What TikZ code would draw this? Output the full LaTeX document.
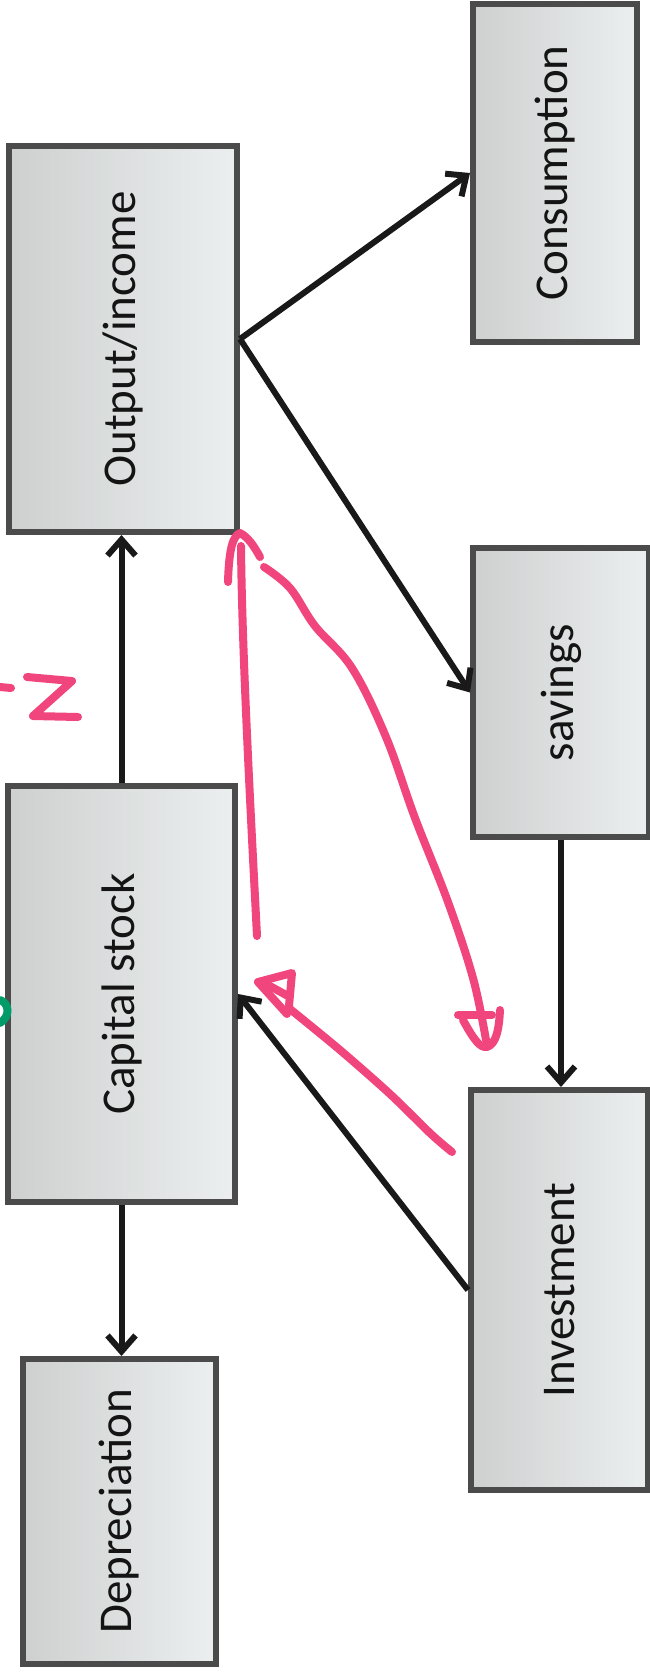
\documentclass[tikz,border=0pt]{standalone}
\usepackage{fontspec}
\setmainfont{Carlito}
\usetikzlibrary{arrows.meta,shapes.geometric}
\definecolor{boxedge}{RGB}{75,75,75}
\definecolor{boxdark}{RGB}{206,208,208}
\definecolor{boxlight}{RGB}{236,239,239}
\definecolor{inkpink}{RGB}{240,70,125}
\definecolor{inkgreen}{RGB}{0,155,105}
\definecolor{txt}{RGB}{20,20,20}
\tikzset{
  flowbox/.style={draw=boxedge, line width=6pt, left color=boxdark, right color=boxlight,
    shading angle=90, rectangle, inner sep=0pt, text=txt,
    font=\fontsize{47}{56}\selectfont},
  flowarrow/.style={draw=black!90, line width=6pt, -{Straight Barb[length=16pt,width=28pt,line width=6pt]}},
  ink/.style={draw=inkpink, line width=8pt, line cap=round, line join=round},
  greenink/.style={draw=inkgreen, line width=8pt, line cap=round}
}
\begin{document}
\begin{tikzpicture}[x=1pt,y=-1pt]
\useasboundingbox (0,0) rectangle (650,1676);
\fill[white] (0,0) rectangle (650,1676);

% boxes
\node[flowbox, minimum width=228pt, minimum height=386pt] (out) at (123,339) {\rotatebox{90}{Output/income}};
\node[flowbox, minimum width=164pt, minimum height=338pt] (cons) at (555,173) {\rotatebox{90}{Consumption}};
\node[flowbox, minimum width=176pt, minimum height=289pt] (sav) at (561,692.5) {\rotatebox{90}{savings}};
\node[flowbox, minimum width=227pt, minimum height=416pt] (cap) at (121.5,994) {\rotatebox{90}{Capital stock}};
\node[flowbox, minimum width=177pt, minimum height=400pt] (inv) at (559.5,1290) {\rotatebox{90}{Investment}};
\node[flowbox, minimum width=193pt, minimum height=305pt] (dep) at (119.5,1511.5) {\rotatebox{90}{Depreciation}};

% connectors
\draw[flowarrow] (out.east) -- (cons.west);
\draw[flowarrow] (out.east) -- (sav.west);
\draw[flowarrow] (cap.north) -- (cap.north |- out.south);
\draw[flowarrow] (sav.south) -- (sav.south |- inv.north);
\draw[flowarrow] (inv.west) -- (cap.east);
\draw[flowarrow] (cap.south) -- (cap.south |- dep.north);

% handwritten pink annotations
\draw[ink] (0,687) -- (11,688);
\draw[ink] (27,677) -- (72,681) -- (33,716) -- (78,717);

\draw[ink] (257,936) .. controls (250,800) and (242,650) .. (241,546);
\draw[ink] (228,582) .. controls (229,548) and (233,536) .. (240,533) .. controls (248,537) and (254,546) .. (260,557);

\draw[ink] plot[smooth, tension=0.6] coordinates {(264,567) (290,588) (315,626) (352,668) (386,737) (415,818) (448,902) (473,978) (486,1040)};
\draw[ink] (458,1015) -- (492,1015);
\draw[ink] (463,1020) .. controls (474,1040) and (480,1048) .. (487,1047) .. controls (496,1044) and (499,1030) .. (500,1010);

\draw[ink] plot[smooth, tension=0.5] coordinates {(452,1152) (431,1134) (390,1094) (340,1050) (290,1009)};
\draw[ink] (258,982) -- (292,973) -- (289,1006);
\draw[ink] (258,982) -- (287,1014);
\draw[ink] (268,985) -- (288,996);

% green mark
\draw[greenink] (0,1000) .. controls (9,1003) and (11,1016) .. (0,1023);
\end{tikzpicture}
\end{document}
